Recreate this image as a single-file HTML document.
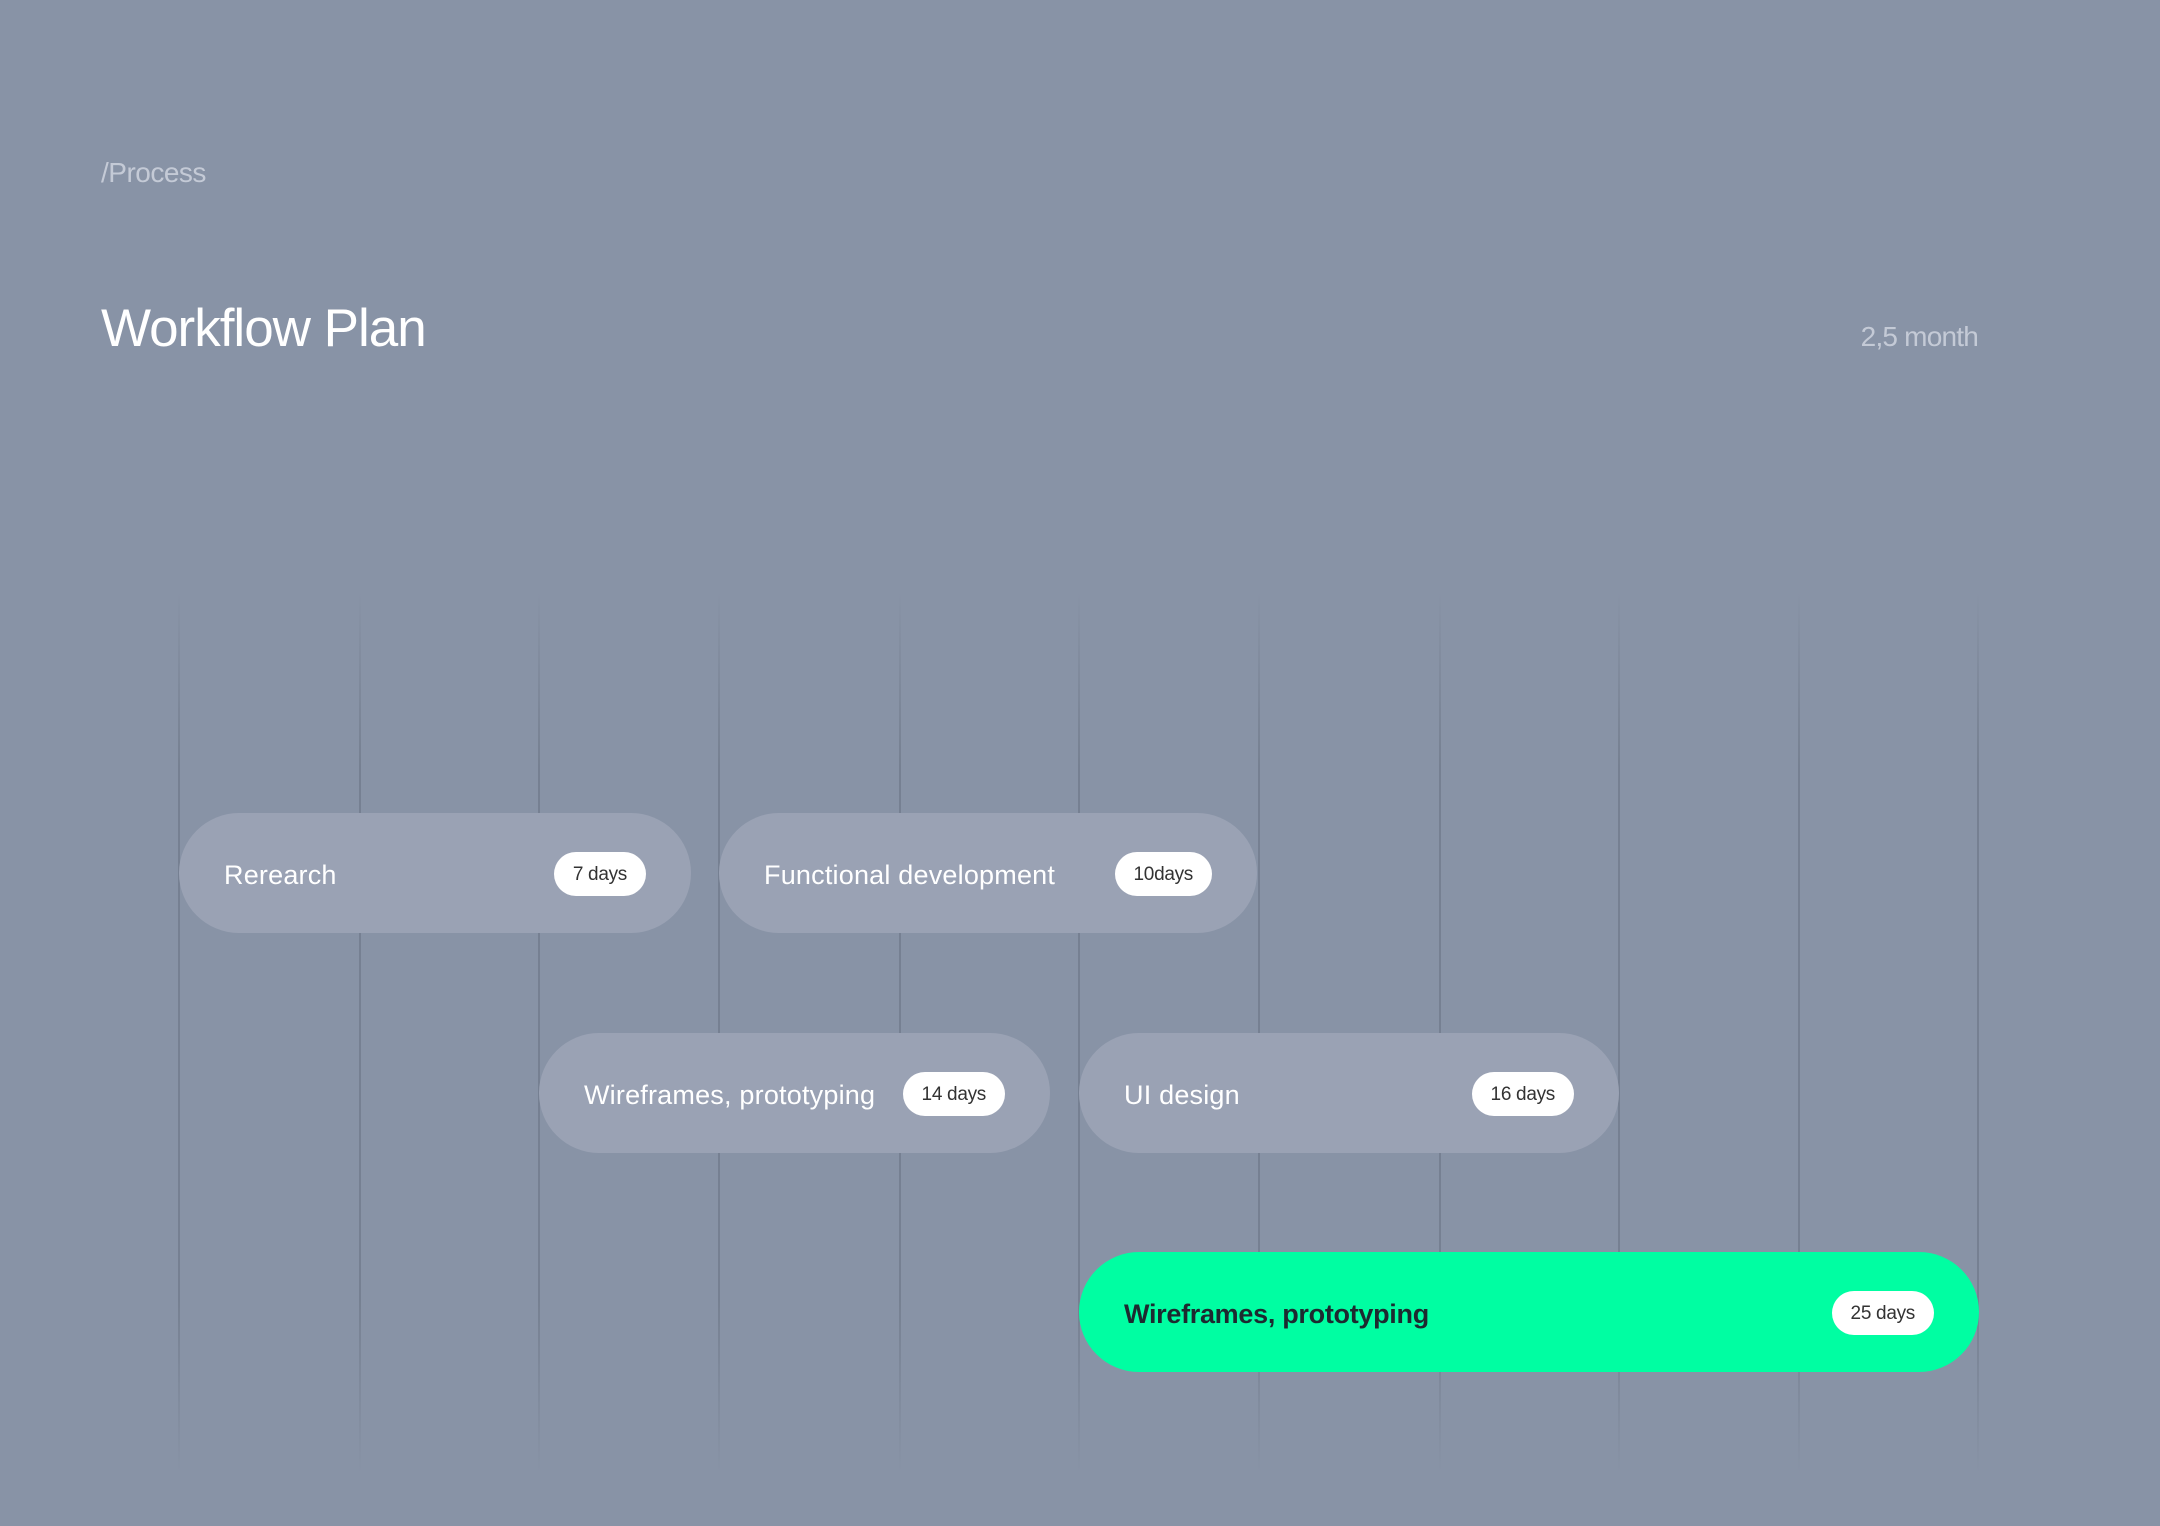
<!DOCTYPE html>
<html><head><meta charset="utf-8"><style>
html,body{margin:0;padding:0}
body{width:2160px;height:1526px;background:#8893a6;position:relative;overflow:hidden;font-family:"Liberation Sans",sans-serif}
.t{position:absolute;white-space:nowrap}
.line{position:absolute;top:592px;height:882px;width:2px;background:linear-gradient(to bottom,rgba(115,125,142,0),rgba(115,125,142,0.85) 20%,rgba(115,125,142,0.85) 80%,rgba(115,125,142,0))}
.pill{position:absolute;height:120px;border-radius:60px;background:#9aa2b4;}
.pill .l{position:absolute;left:45px;top:2px;line-height:120px;font-size:27px;color:#fff;letter-spacing:0.2px}
.pill .b{position:absolute;right:45px;top:39px;height:44px;line-height:46px;padding:0 19px;border-radius:22px;background:#fff;color:#333;font-size:19px;letter-spacing:-0.3px}
.g{background:#00fea2}
.g .l{color:#1d2a30;font-weight:bold;letter-spacing:-0.3px}
</style></head><body>
<div class="t" style="left:101px;top:157px;font-size:28px;color:#c4cad6;letter-spacing:-0.5px">/Process</div>
<div class="t" style="left:101px;top:298px;font-size:53px;color:#fff;letter-spacing:-1px">Workflow Plan</div>
<div class="t" style="right:182px;top:321px;font-size:28px;color:#c4cad6;letter-spacing:-0.8px">2,5 month</div>

<div class="line" style="left:178px"></div>
<div class="line" style="left:359px"></div>
<div class="line" style="left:538px"></div>
<div class="line" style="left:718px"></div>
<div class="line" style="left:899px"></div>
<div class="line" style="left:1078px"></div>
<div class="line" style="left:1258px"></div>
<div class="line" style="left:1439px"></div>
<div class="line" style="left:1618px"></div>
<div class="line" style="left:1798px"></div>
<div class="line" style="left:1977px"></div>

<div class="pill" style="left:179px;top:813px;width:512px"><span class="l">Rerearch</span><span class="b">7 days</span></div>
<div class="pill" style="left:719px;top:813px;width:538px"><span class="l">Functional development</span><span class="b">10days</span></div>
<div class="pill" style="left:539px;top:1033px;width:511px"><span class="l">Wireframes, prototyping</span><span class="b">14 days</span></div>
<div class="pill" style="left:1079px;top:1033px;width:540px"><span class="l">UI design</span><span class="b">16 days</span></div>
<div class="pill g" style="left:1079px;top:1252px;width:900px"><span class="l">Wireframes, prototyping</span><span class="b">25 days</span></div>
</body></html>
